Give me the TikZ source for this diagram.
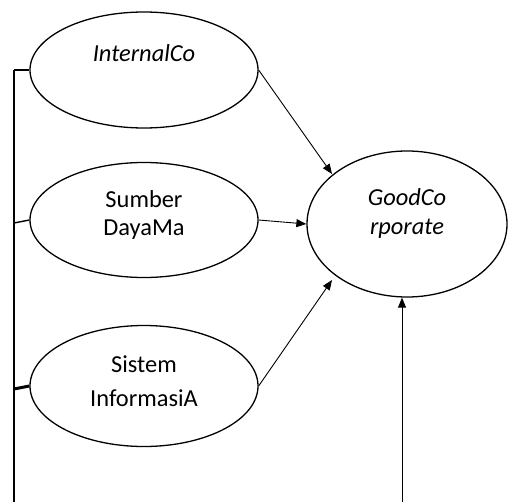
\documentclass[tikz,border=0pt]{standalone}
\usepackage{fontspec}
\setmainfont{Carlito}
\usetikzlibrary{shapes.geometric,arrows.meta}
\begin{document}
\begin{tikzpicture}[x=1bp,y=-1bp,
  oval/.style={draw, ellipse, line width=1.3bp, inner sep=0pt},
  lbl/.style={font=\fontsize{24.5}{29}\selectfont, align=center, inner sep=0pt},
  arr/.style={line width=0.9bp, -{Triangle[length=10bp,width=8bp]}},
  tie/.style={line width=1.4bp}]
\useasboundingbox (0,0) rectangle (508,502);
\node[oval, minimum width=228bp, minimum height=116bp] (e1) at (144,70) {};
\node[oval, minimum width=228bp, minimum height=115bp] (e2) at (144,220) {};
\node[oval, minimum width=228bp, minimum height=121bp] (e3) at (144,386) {};
\node[oval, minimum width=200bp, minimum height=146bp] (g) at (407,224) {};
\node[lbl, anchor=base] (t1) at (144,62) {\itshape InternalCo};
\node[lbl, anchor=base] (t2a) at (144,207) {Sumber};
\node[lbl, anchor=base] (t2b) at (144,235) {DayaMa};
\node[lbl, anchor=base] (t3a) at (144,372) {Sistem};
\node[lbl, anchor=base] (t3b) at (144,406) {InformasiA};
\node[lbl, anchor=base] (g1) at (407,205) {\itshape GoodCo};
\node[lbl, anchor=base] (g2) at (407,234) {\itshape rporate};
\coordinate (lt) at (14,70);
\coordinate (lb) at (14,502);
\coordinate (vb) at (402,502);
\draw[tie] (lt) -- (lb);
\draw[tie] (lt) -- (e1.west);
\draw[tie] (14,223) -- (e2.west);
\draw[line width=3bp] (14,389) -- (e3.west);
\draw[arr] (e1.east) -- (332,174);
\draw[arr] (e2.east) -- (g.west);
\draw[arr] (e3.east) -- (332,280);
\draw[arr] (vb) -- (g.south -| vb);
\end{tikzpicture}
\end{document}
